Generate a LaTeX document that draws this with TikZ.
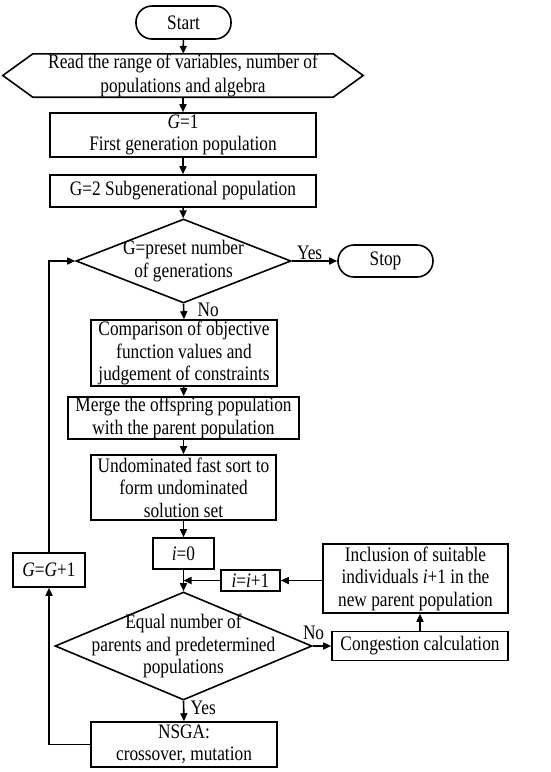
\documentclass[tikz,border=0pt]{standalone}
\usepackage{fontspec}
\setmainfont{Liberation Serif}[FakeStretch=0.84]
\usetikzlibrary{shapes.geometric,arrows.meta,calc}
\begin{document}
\begin{tikzpicture}[x=1pt,y=-1pt,
  every node/.style={font=\fontsize{20.6}{22.5}\selectfont},
  box/.style={draw,line width=1.6pt,inner sep=0pt,align=center},
  term/.style={box,rounded corners=16pt},
  dia/.style={draw,line width=1.6pt,diamond,inner sep=0pt},
  lbl/.style={inner sep=0pt,align=center},
  tag/.style={inner sep=0pt},
  arr/.style={line width=1.6pt,-{Triangle[length=8pt,width=7pt]}},
  ln/.style={line width=1.6pt}]
\useasboundingbox (0,0) rectangle (550,772);
\fill[white] (0,0) rectangle (550,772);

\node[term,minimum width=95pt,minimum height=33pt] (start) at (183.5,22.5) {Start};
\node[lbl,minimum width=300pt,minimum height=43pt,font=\fontsize{20.6}{24}\selectfont] (read) at (183,75.5)
  {Read the range of variables, number of\\populations and algebra};
\draw[ln] (read.north west) -- (read.north east) -- ($(read.east)+(30,0)$) -- (read.south east)
  -- (read.south west) -- ($(read.west)+(-30,0)$) -- cycle;
\node[box,minimum width=266pt,minimum height=44pt] (g1) at (183,135) {\textit{G}=1\\First generation population};
\node[box,minimum width=266pt,minimum height=32pt] (g2) at (183,191) {G=2 Subgenerational population};
\node[dia,minimum width=215pt,minimum height=84pt] (dec1) at (183.5,261) {};
\node[lbl] (dec1t) at (dec1) {G=preset number\\of generations};
\node[term,minimum width=95pt,minimum height=32pt] (stop) at (385.5,261) {Stop};
\node[box,minimum width=186pt,minimum height=66pt] (comp) at (184,353)
  {Comparison of objective\\function values and\\judgement of constraints};
\node[box,minimum width=231pt,minimum height=42pt] (merge) at (183.5,418)
  {Merge the offspring population\\with the parent population};
\node[box,minimum width=185pt,minimum height=65pt] (undom) at (183.5,487.5)
  {Undominated fast sort to\\form undominated\\solution set};
\node[box,minimum width=61pt,minimum height=31pt] (i0) at (183.5,553.5) {\textit{i}=0};
\node[box,minimum width=72pt,minimum height=34pt] (ggp) at (49,570) {\textit{G}=\textit{G}+1};
\node[box,minimum width=185pt,minimum height=69pt] (incl) at (415.5,578.5)
  {Inclusion of suitable\\individuals \textit{i}+1 in the\\new parent population};
\node[box,minimum width=59pt,minimum height=21pt] (iinc) at (250.5,580.5) {\textit{i}=\textit{i}+1};
\coordinate (j) at (183.5,580.5);
\node[dia,minimum width=257pt,minimum height=108pt] (dec2) at (183.5,646) {};
\node[lbl] (dec2t) at (dec2) {Equal number of\\parents and predetermined\\populations};
\node[box,minimum width=176pt,minimum height=29pt] (cong) at (420,646) {Congestion calculation};
\node[box,minimum width=186pt,minimum height=45pt] (nsga) at (184,744.5) {NSGA:\\crossover, mutation};

\draw[arr] (start) -- (read);
\draw[arr] (read) -- (g1);
\draw[arr] (g1) -- (g2);
\draw[arr] (g2) -- (dec1);
\draw[arr] (dec1.east) -- (stop.west);
\node[tag,anchor=base west] (yes1) at ($(dec1.east)+(5,-2)$) {Yes};
\draw[arr] (dec1.south) -- (comp.north);
\node[tag,anchor=base west] (no1) at ($(dec1.south)+(14,13)$) {No};
\draw[arr] (comp) -- (merge);
\draw[arr] (merge) -- (undom);
\draw[arr] (undom) -- (i0);
\draw[ln] (i0.south) -- (j);
\draw[arr] (iinc.west) -- (j);
\draw[arr] (j) -- (dec2.north);
\draw[arr] (incl.west |- iinc.east) -- (iinc.east);
\draw[arr] (dec2.east) -- (cong.west);
\node[tag,anchor=base west] (no2) at ($(dec2.east)+(-10,-7)$) {No};
\draw[arr] (cong.north) -- (cong.north |- incl.south);
\draw[arr] (dec2.south) -- (nsga.north);
\node[tag,anchor=base west] (yes2) at ($(dec2.south)+(7,14)$) {Yes};
\draw[arr] (nsga.west) -| (ggp.south);
\draw[arr] (ggp.north) |- (dec1.west);
\end{tikzpicture}
\end{document}
